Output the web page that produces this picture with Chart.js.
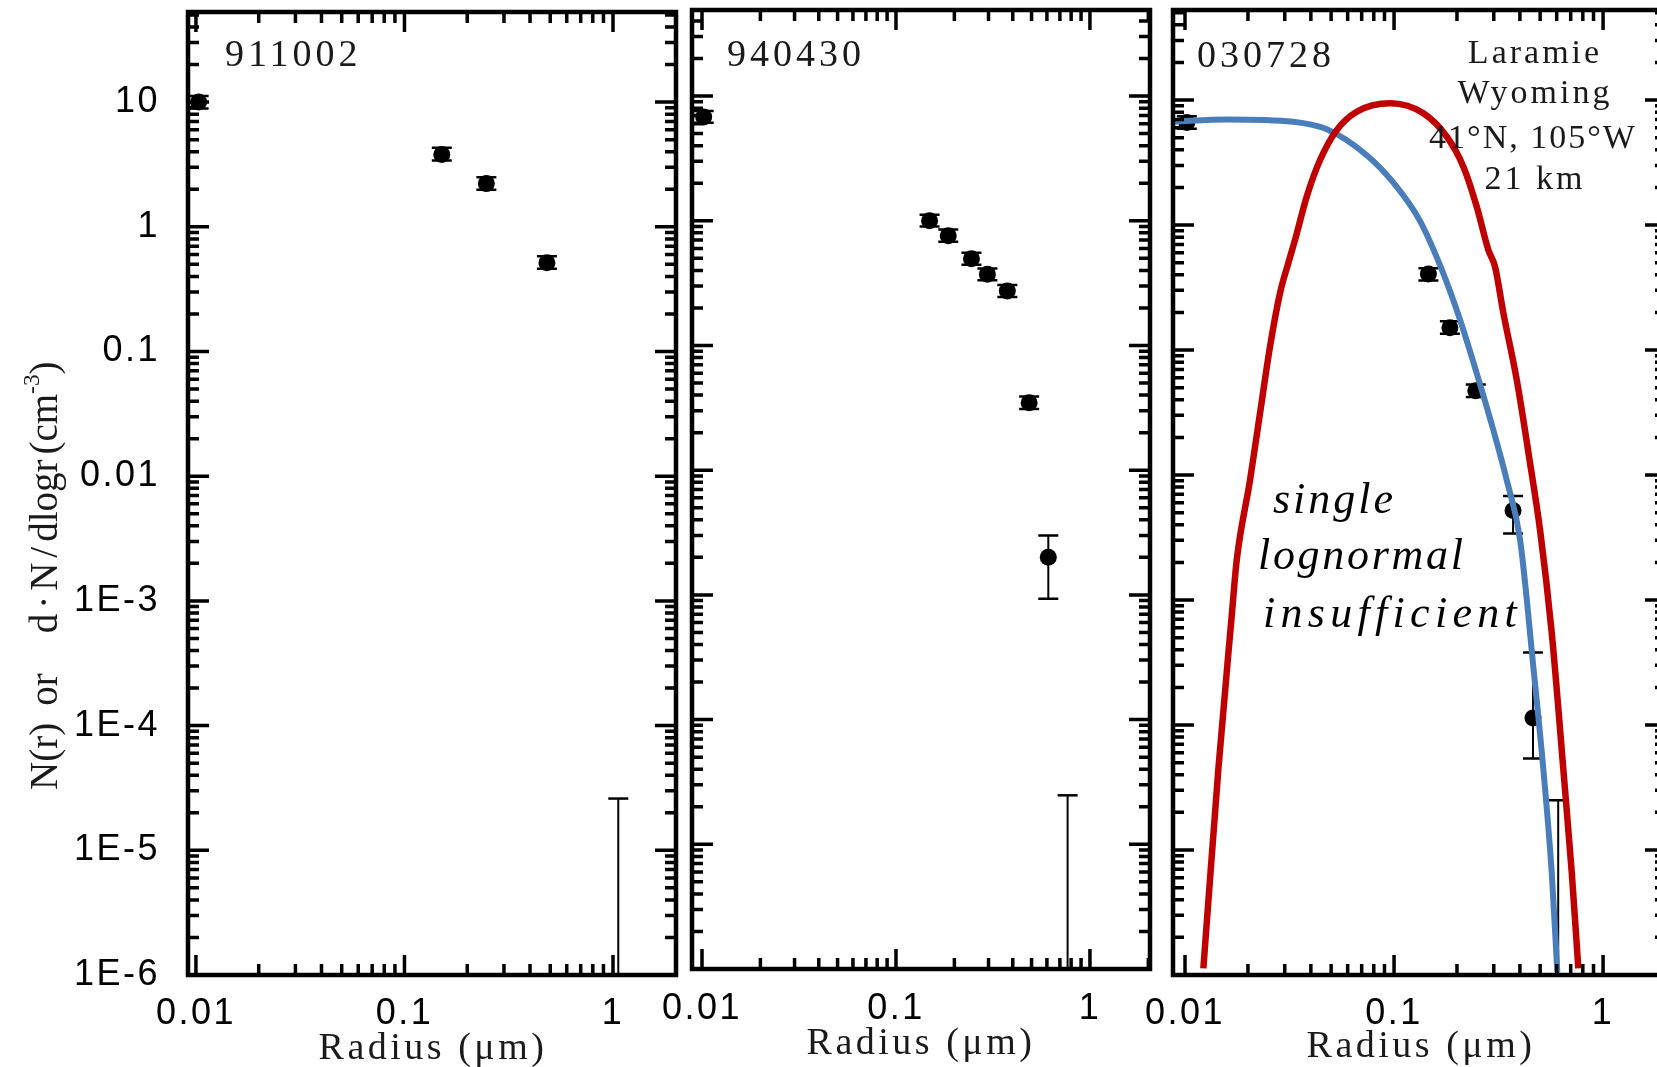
<!DOCTYPE html>
<html>
<head>
<meta charset="utf-8">
<script src="https://cdn.jsdelivr.net/npm/chart.js@4.4.1/dist/chart.umd.min.js"></script>
<style>
html, body { margin: 0; padding: 0; background: #fff; overflow: hidden; width: 1657px; height: 1067px; position: relative; }
canvas { position: absolute; top: 0; }
.t { position: absolute; font-family: "Liberation Serif", serif; color: #1a1a1a; line-height: 1; white-space: nowrap; }
.c { transform: translateX(-50%); }
.hand { font-style: italic; font-size: 44px; color: #000; }
</style>
</head>
<body>
<canvas id="c1" width="698" height="1067" style="left:0px"></canvas>
<canvas id="c2" width="540" height="1067" style="left:632px"></canvas>
<canvas id="c3" width="575" height="1067" style="left:1113px"></canvas>

<div class="t" style="font-size:38px;letter-spacing:4px;left:225px;top:34px">911002</div>
<div class="t" style="font-size:38px;letter-spacing:4px;left:727px;top:34px">940430</div>
<div class="t" style="font-size:38px;letter-spacing:4px;left:1197px;top:35px">030728</div>

<div class="t c" style="font-size:34px;letter-spacing:3px;left:1535px;top:35px">Laramie</div>
<div class="t c" style="font-size:34px;letter-spacing:3px;left:1535px;top:75px">Wyoming</div>
<div class="t c" style="font-size:34px;letter-spacing:2px;left:1533px;top:120px">41°N, 105°W</div>
<div class="t c" style="font-size:34px;letter-spacing:3px;left:1535px;top:161px">21 km</div>

<div class="t hand" style="letter-spacing:3px;left:1273px;top:477px">single</div>
<div class="t hand" style="letter-spacing:2.7px;left:1258px;top:533px">lognormal</div>
<div class="t hand" style="letter-spacing:5.3px;left:1263px;top:591px">insufficient</div>

<div class="t c" style="font-size:38px;letter-spacing:3.5px;left:433px;top:1027px">Radius (μm)</div>
<div class="t c" style="font-size:38px;letter-spacing:3.5px;left:921px;top:1022px">Radius (μm)</div>
<div class="t c" style="font-size:38px;letter-spacing:3.5px;left:1421px;top:1025px">Radius (μm)</div>

<div class="t" style="font-size:39px;left:24px;top:790px;transform-origin:0 0;transform:rotate(-90deg)"><span>N(r)</span><span style="margin-left:17px">or</span><span style="margin-left:40px;letter-spacing:5px">d·N/</span><span>dlogr</span><span style="margin-left:5px">(cm<span style="font-size:0.6em;position:relative;top:-0.75em">-3</span>)</span></div>

<script>
// axis labels
const xTickVals = [0.01, 0.1, 1];
const xTickText = ['0.01', '0.1', '1'];
const yTickVals = [10, 1, 0.1, 0.01, 1e-3, 1e-4, 1e-5, 1e-6];
const yTickText = ['10', '1', '0.1', '0.01', '1E-3', '1E-4', '1E-5', '1E-6'];

// 911002
const p1X = [0.0103, 0.151, 0.247, 0.482];
const p1Y = [10.0, 3.8, 2.22, 0.516];
const p1Lo = [8.9, 3.4, 1.98, 0.46];
const p1Hi = [11.2, 4.3, 2.5, 0.58];
const p1LimX = [1.06];
const p1LimY = [2.6e-5];

// 940430
const p2X = [0.0102, 0.149, 0.186, 0.245, 0.296, 0.375, 0.486, 0.61];
const p2Y = [6.8, 1.0, 0.76, 0.496, 0.372, 0.274, 0.0348, 2.0e-3];
const p2Lo = [6.1, 0.9, 0.68, 0.445, 0.333, 0.245, 0.031, 9.3e-4];
const p2Hi = [7.6, 1.12, 0.85, 0.555, 0.415, 0.305, 0.039, 3.0e-3];
const p2LimX = [0.767];
const p2LimY = [2.47e-5];

// 030728
const p3X = [0.0102, 0.146, 0.185, 0.246, 0.371, 0.462];
const p3Y = [6.6, 0.405, 0.151, 0.0472, 5.2e-3, 1.14e-4];
const p3Lo = [5.9, 0.36, 0.135, 0.042, 3.4e-3, 5.4e-5];
const p3Hi = [7.4, 0.45, 0.17, 0.053, 6.8e-3, 3.8e-4];
const p3LimX = [0.61];
const p3LimY = [2.5e-5];

// fitted curves, panel 3
const blueX = [0.00876, 0.0158, 0.0329, 0.0477, 0.074, 0.0993, 0.133, 0.172, 0.207, 0.2487, 0.2985, 0.346, 0.401, 0.464, 0.518, 0.568, 0.604];
const blueY = [6.7, 7.0, 6.7, 5.83, 3.62, 2.18, 1.08, 0.411, 0.174, 0.0651, 0.0229, 9.12e-3, 3.02e-3, 2.9e-4, 4.4e-5, 6.6e-6, 1.06e-6];
const redX = [0.01224, 0.01443, 0.01673, 0.01768, 0.02047, 0.02285, 0.0255, 0.02848, 0.0312, 0.0336, 0.0382, 0.04426, 0.05318, 0.06629, 0.0957, 0.1381, 0.1787, 0.2146, 0.2487, 0.2826, 0.3042, 0.3334, 0.3865, 0.4473, 0.4995, 0.568, 0.6457, 0.7082, 0.7615];
const redY = [1.13e-6, 4.39e-5, 7.5e-4, 2.09e-3, 9.12e-3, 0.0313, 0.1063, 0.2858, 0.4966, 0.759, 1.684, 3.31, 5.75, 8.06, 9.41, 7.83, 5.09, 2.93, 1.401, 0.631, 0.4638, 0.1977, 0.0575, 0.01247, 3.63e-3, 5.47e-4, 4.39e-5, 6.61e-6, 1.13e-6];

const pts = (xs, ys) => xs.map((x, i) => ({x: x, y: ys[i]}));
const mant = v => v / Math.pow(10, Math.floor(Math.log10(v) + 1e-9));
const isMaj = v => Math.abs(mant(v) - 1) < 1e-6;

// keep only 1..9 x 10^n ticks
function keepNice(scale) {
  scale.ticks = scale.ticks.filter(t => {
    const m = mant(t.value);
    return Math.abs(m - Math.round(m)) < 1e-6 && t.value >= scale.min * 0.9999 && t.value <= scale.max * 1.0001;
  });
}
function labelFrom(vals, texts) {
  return v => {
    const i = vals.findIndex(u => Math.abs(Math.log10(u) - Math.log10(v)) < 1e-6);
    return i < 0 ? '' : texts[i];
  };
}

const framePlugin = {
  id: 'frame',
  beforeDraw(chart) {
    chart.ctx.letterSpacing = '2.5px';
  },
  beforeDatasetsDraw(chart, args, opts) {
    const {ctx, chartArea: a} = chart;
    const xs = chart.scales.x, ys = chart.scales.y;
    ctx.save();
    ctx.beginPath();
    ctx.rect(a.left, a.top, a.right - a.left, a.bottom - a.top);
    ctx.clip();
    ctx.strokeStyle = '#000';
    (opts.bars || []).forEach(b => {
      b.x.forEach((xv, i) => {
        const px = xs.getPixelForValue(xv);
        const top = ys.getPixelForValue(b.hi[i]);
        const bot = b.lo ? ys.getPixelForValue(b.lo[i]) : a.bottom;
        ctx.lineWidth = 2;
        ctx.beginPath(); ctx.moveTo(px, top); ctx.lineTo(px, bot); ctx.stroke();
        ctx.lineWidth = 2.5;
        ctx.beginPath();
        ctx.moveTo(px - 10, top); ctx.lineTo(px + 10, top);
        if (b.lo) { ctx.moveTo(px - 10, bot); ctx.lineTo(px + 10, bot); }
        ctx.stroke();
      });
    });
    ctx.restore();
  },
  afterDraw(chart) {
    const {ctx, chartArea: a} = chart;
    const xs = chart.scales.x, ys = chart.scales.y;
    ctx.letterSpacing = '0px';
    ctx.save();
    ctx.strokeStyle = '#000';
    ctx.lineWidth = 3.5;
    ctx.beginPath();
    xs.ticks.forEach(t => {
      const p = xs.getPixelForValue(t.value);
      const len = isMaj(t.value) ? 20 : 11;
      ctx.moveTo(p, a.bottom); ctx.lineTo(p, a.bottom - len);
      ctx.moveTo(p, a.top); ctx.lineTo(p, a.top + len);
    });
    ys.ticks.forEach(t => {
      const p = ys.getPixelForValue(t.value);
      const len = isMaj(t.value) ? 21 : 11;
      ctx.moveTo(a.left, p); ctx.lineTo(a.left + len, p);
      ctx.moveTo(a.right, p); ctx.lineTo(a.right - len, p);
    });
    ctx.stroke();
    ctx.lineWidth = 4.5;
    ctx.strokeRect(a.left, a.top, a.right - a.left, a.bottom - a.top);
    ctx.restore();
  }
};

function makePanel(p) {
  const datasets = [];
  (p.curves || []).forEach(c => datasets.push({
    data: pts(c.x, c.y), showLine: true, borderColor: c.color, borderWidth: c.width,
    pointRadius: 0, cubicInterpolationMode: 'monotone', order: c.order
  }));
  datasets.push({
    data: pts(p.x, p.y), showLine: false, pointRadius: 8.5, pointBorderWidth: 0,
    backgroundColor: '#000', borderColor: '#000', order: 5
  });
  return new Chart(document.getElementById(p.id), {
    type: 'scatter',
    data: { datasets: datasets },
    options: {
      responsive: false,
      animation: false,
      events: [],
      layout: { padding: { left: 0, top: p.top, right: 22, bottom: 0 } },
      plugins: {
        legend: { display: false },
        tooltip: { enabled: false },
        frame: { bars: [{x: p.x, lo: p.lo, hi: p.hi}, {x: p.limX, hi: p.limY}] }
      },
      scales: {
        x: {
          type: 'logarithmic', position: 'bottom', min: p.xMin, max: p.xMax,
          grid: { display: false, drawTicks: false }, border: { display: false },
          ticks: { autoSkip: false, maxRotation: 0, padding: p.xPad, color: '#000',
                   font: { family: 'Liberation Sans', size: 36 }, callback: labelFrom(xTickVals, xTickText) },
          afterBuildTicks: keepNice,
          afterFit: s => { s.height = p.xH; s.paddingLeft = s.paddingRight = s.paddingTop = s.paddingBottom = 0; }
        },
        y: {
          type: 'logarithmic', position: 'left', min: 1e-6, max: p.yMax,
          grid: { display: false, drawTicks: false }, border: { display: false },
          ticks: { display: p.yLabels, autoSkip: false, padding: 28, color: '#000',
                   font: { family: 'Liberation Sans', size: 36 }, callback: labelFrom(yTickVals, yTickText) },
          afterBuildTicks: keepNice,
          afterFit: s => { s.width = p.yW; s.paddingLeft = s.paddingRight = s.paddingTop = s.paddingBottom = 0; }
        }
      }
    },
    plugins: [framePlugin]
  });
}

makePanel({ id: 'c1', top: 12, yW: 188, xH: 92, xPad: 17, xMin: 0.00916, xMax: 2.005, yMax: 52.8, yLabels: true,
  x: p1X, y: p1Y, lo: p1Lo, hi: p1Hi, limX: p1LimX, limY: p1LimY });
makePanel({ id: 'c2', top: 10, yW: 60, xH: 98, xPad: 18, xMin: 0.00888, xMax: 2.04, yMax: 49, yLabels: false,
  x: p2X, y: p2Y, lo: p2Lo, hi: p2Hi, limX: p2LimX, limY: p2LimY });
makePanel({ id: 'c3', top: 10, yW: 60, xH: 92, xPad: 17, xMin: 0.00876, xMax: 2.0, yMax: 52.5, yLabels: false,
  x: p3X, y: p3Y, lo: p3Lo, hi: p3Hi, limX: p3LimX, limY: p3LimY,
  curves: [
    { x: redX, y: redY, color: '#c00000', width: 6.5, order: 0 },
    { x: blueX, y: blueY, color: '#4a7ebb', width: 6, order: 1 }
  ] });
</script>
</body>
</html>
